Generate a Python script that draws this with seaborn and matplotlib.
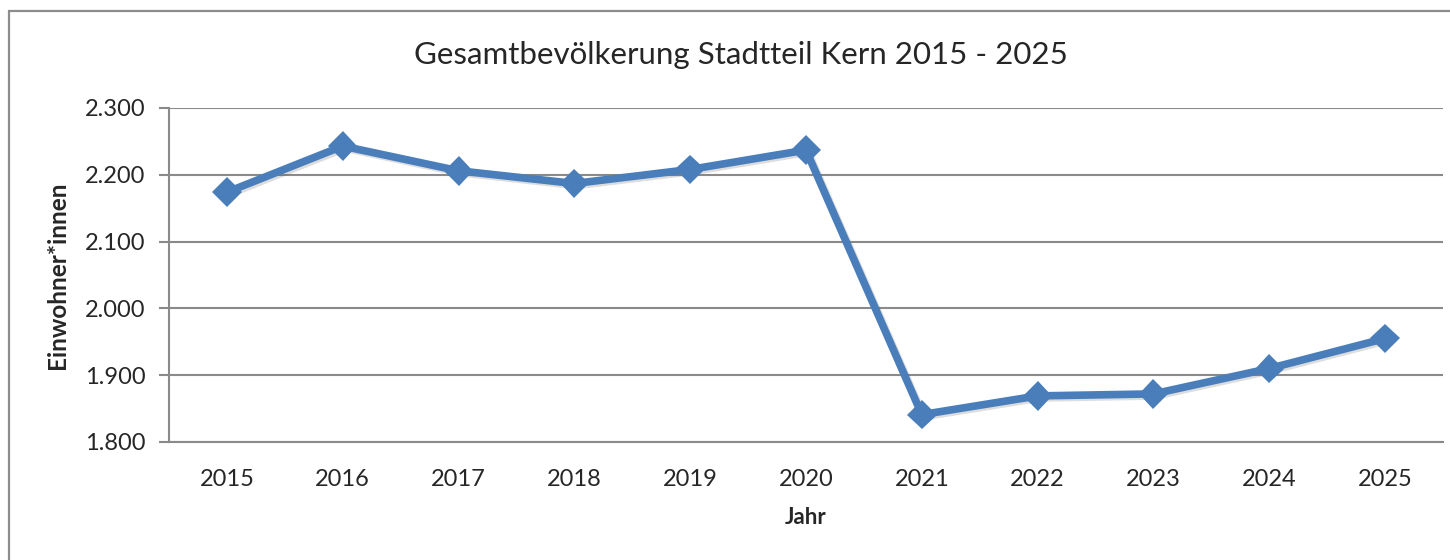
import numpy as np
import pandas as pd
import matplotlib
matplotlib.use("Agg")
import matplotlib.pyplot as plt
import matplotlib.patheffects as pe
from matplotlib.patches import Rectangle
from matplotlib.ticker import FuncFormatter
import seaborn as sns

years = [2015, 2016, 2017, 2018, 2019, 2020, 2021, 2022, 2023, 2024, 2025]
einwohner = [2174, 2243, 2206, 2187, 2208, 2237, 1841, 1869, 1872, 1910, 1955]
y_ticks = [1800, 1900, 2000, 2100, 2200, 2300]

title = "Gesamtbevölkerung Stadtteil Kern 2015 - 2025"
x_label = "Jahr"
y_label = "Einwohner*innen"

line_color = "#4a7ebb"
grid_color = "#8a8a8a"

sns.set_style("white")
plt.rcParams["font.family"] = ["Lato", "DejaVu Sans"]

df = pd.DataFrame({"Jahr": years, "Einwohner": einwohner})

fig = plt.figure(figsize=(14.5, 5.6), dpi=100)
ax = fig.add_axes([169 / 1450, 1 - 442 / 560, (1443 - 169) / 1450, (442 - 108) / 560])

# outer chart frame (bottom/right run off the image)
fig.patches.append(Rectangle((9 / 1450, -0.1), 1.2, 1.1 - 11 / 560,
                             transform=fig.transFigure, fill=False,
                             edgecolor="#8c8c8c", linewidth=1.6, zorder=0))

sns.lineplot(data=df, x="Jahr", y="Einwohner", ax=ax, color=line_color,
             linewidth=5.5, marker="D", markersize=15, markeredgewidth=0,
             path_effects=[pe.SimpleLineShadow(offset=(1.5, -1.5), alpha=0.2, shadow_color="#555555"),
                           pe.Normal()])

ax.set_xlim(2014.5, 2025.5)
ax.set_ylim(1800, 2300)
ax.set_xticks(years)
ax.set_xticklabels([str(y) for y in years])
ax.set_yticks(y_ticks)
ax.yaxis.set_major_formatter(FuncFormatter(lambda v, p: f"{v:,.0f}".replace(",", ".")))

ax.grid(axis="y", color=grid_color, linewidth=1.5)
ax.grid(axis="x", visible=False)
ax.set_axisbelow(True)
for side in ["top", "right"]:
    ax.spines[side].set_visible(False)
for side in ["left", "bottom"]:
    ax.spines[side].set_color(grid_color)
    ax.spines[side].set_linewidth(1.5)

ax.tick_params(axis="y", which="major", left=True, length=7, width=1.5, color=grid_color,
               labelsize=17, pad=10)
ax.tick_params(axis="x", which="major", bottom=False, labelsize=17, pad=16)

ax.set_xlabel(x_label, fontsize=16, fontweight="bold", labelpad=12)
ax.set_ylabel(y_label, fontsize=17.5, fontweight="bold", labelpad=11)
fig.text(741 / 1450, 1 - 55 / 560, title, fontsize=22.5, ha="center", va="center")

fig.savefig("out.png", dpi=100)
